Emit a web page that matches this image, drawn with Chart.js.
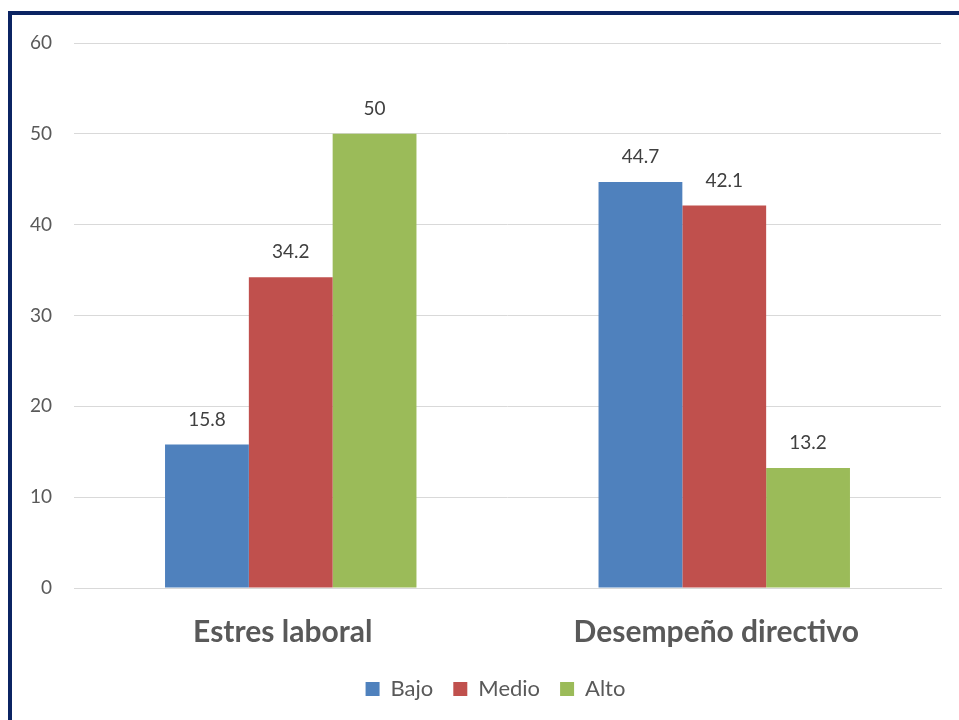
<!DOCTYPE html>
<html>
<head>
<meta charset="utf-8">
<script src="https://cdn.jsdelivr.net/npm/chart.js@4/dist/chart.umd.min.js"></script>
<style>
  html, body { margin: 0; padding: 0; background: #ffffff; }
  #wrap { position: relative; width: 959px; height: 720px; overflow: hidden; }
  #frame { position: absolute; left: 8px; top: 11px; right: -10px; bottom: -10px;
           border-left: 4px solid #0b2463; border-top: 4px solid #0b2463; pointer-events: none; }
  canvas { position: absolute; left: 0; top: 0; }
</style>
</head>
<body>
<div id="wrap">
  <canvas id="chart" width="959" height="720"></canvas>
  <div id="frame"></div>
</div>
<script>
const categories = ['Estres laboral', 'Desempeño directivo'];
const bajo = [15.8, 44.7];
const medio = [34.2, 42.1];
const alto = [50, 13.2];
const yTicks = [0, 10, 20, 30, 40, 50, 60];

const FONT = 'Lato, "Open Sans", sans-serif';

// Writes each bar's value just above it
const valueLabels = {
  id: 'valueLabels',
  afterDatasetsDraw(chart) {
    const ctx = chart.ctx;
    ctx.save();
    ctx.font = '19px ' + FONT;
    ctx.fillStyle = '#404040';
    ctx.textAlign = 'center';
    ctx.textBaseline = 'middle';
    chart.data.datasets.forEach((ds, i) => {
      chart.getDatasetMeta(i).data.forEach((bar, j) => {
        ctx.fillText(String(ds.data[j]), bar.x, bar.y - 25);
      });
    });
    ctx.restore();
  }
};

// Centres the legend under the plot area rather than the whole canvas
const legendUnderPlot = {
  id: 'legendUnderPlot',
  afterLayout(chart) {
    const lg = chart.legend;
    if (!lg) return;
    const shift = (chart.chartArea.left + chart.chartArea.right) / 2 - (lg.left + lg.right) / 2 - 12;
    lg.left += shift;
    lg.right += shift;
  }
};

new Chart(document.getElementById('chart'), {
  type: 'bar',
  data: {
    labels: categories,
    datasets: [
      { label: 'Bajo', data: bajo, backgroundColor: '#4F81BD' },
      { label: 'Medio', data: medio, backgroundColor: '#C0504D' },
      { label: 'Alto', data: alto, backgroundColor: '#9BBB59' }
    ]
  },
  options: {
    responsive: false,
    animation: false,
    devicePixelRatio: 1,
    layout: { padding: { top: 43, right: 18, left: 0, bottom: 10 } },
    datasets: { bar: { barPercentage: 1, categoryPercentage: 0.58 } },
    plugins: {
      legend: {
        position: 'bottom',
        labels: {
          font: { family: FONT, size: 22 },
          color: '#595959',
          boxWidth: 14,
          boxHeight: 14,
          padding: 20
        }
      },
      tooltip: { enabled: false }
    },
    scales: {
      x: {
        grid: { display: false, drawTicks: false },
        border: { display: true, color: '#d9d9d9', width: 1 },
        ticks: {
          font: { family: FONT, size: 30, weight: 'bold' },
          color: '#595959',
          padding: 26,
          labelOffset: -8
        },
        afterFit(s) { s.height = 70; }
      },
      y: {
        min: 0,
        max: 60,
        afterBuildTicks(s) { s.ticks = yTicks.map(v => ({ value: v })); },
        grid: { color: '#d9d9d9', lineWidth: 1, drawTicks: false },
        border: { display: false },
        ticks: {
          font: { family: FONT, size: 19 },
          color: '#595959',
          padding: 22
        },
        afterFit(s) { s.width = 74; }
      }
    }
  },
  plugins: [valueLabels, legendUnderPlot]
});
</script>
</body>
</html>
